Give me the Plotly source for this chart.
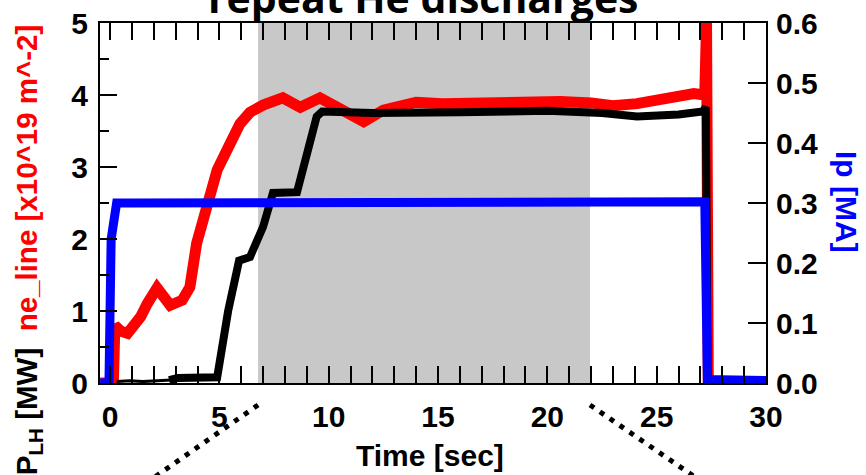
import plotly.graph_objects as go

# ---- data ----
ne_t = [-0.45, 0.15, 0.22, 0.5, 0.8, 1.1, 1.4, 1.7, 2.15, 2.45, 2.75, 3.3, 3.65, 3.96, 4.4, 4.9, 5.5, 5.94, 6.4,
        7.0, 7.9, 8.7, 9.6, 10.4, 11.0, 11.6, 12.5, 14.0, 15.2, 17.0, 19.0, 20.6, 22.0, 23.0, 24.1, 25.5, 26.7,
        27.2, 27.28, 27.36, 30.0]
ne_v = [0.0, 0.0, 0.8, 0.72, 0.69, 0.8, 0.92, 1.1, 1.32, 1.2, 1.08, 1.15, 1.33, 1.94, 2.45, 2.96, 3.33, 3.6, 3.76,
        3.86, 3.96, 3.83, 3.96, 3.84, 3.72, 3.63, 3.79, 3.9, 3.88, 3.9, 3.91, 3.91, 3.89, 3.85, 3.88, 3.95, 4.02,
        4.0, 5.0, 0.0, 0.0]

# P_LH: low-level noisy start, then main ramp
plh_early_t = [0.3, 0.9, 1.5, 2.1, 2.8]
plh_early_v = [0.02, 0.03, 0.02, 0.03, 0.04]
plh_t = [2.7, 3.1, 4.9, 5.4, 5.9, 6.4, 7.0, 7.45, 8.55, 8.8, 9.45, 9.7, 12.0, 16.0, 20.0, 22.5,
         24.1, 26.0, 27.1, 27.25, 27.33, 30.0]
plh_v = [0.04, 0.07, 0.08, 1.0, 1.7, 1.75, 2.17, 2.64, 2.65, 2.95, 3.7, 3.77, 3.75, 3.76, 3.78, 3.75,
         3.7, 3.73, 3.77, 3.83, 0.0, 0.0]

ip_t = [-0.45, -0.05, 0.05, 0.15, 0.3, 1.0, 5.0, 10.0, 15.0, 20.0, 25.0, 27.2, 27.32, 27.5, 30.0]
ip_v = [0.0, 0.0, 0.24, 0.26, 0.30, 0.30, 0.30, 0.30, 0.30, 0.30, 0.30, 0.302, 0.006, 0.006, 0.004]

shade_t = [6.77, 21.95]
x_ticks = [0, 5, 10, 15, 20, 25, 30]

FONT = "Liberation Sans"

fig = go.Figure()
fig.add_trace(go.Scatter(x=ne_t, y=ne_v, mode="lines", line=dict(color="#ff0000", width=11), yaxis="y"))
fig.add_trace(go.Scatter(x=plh_early_t, y=plh_early_v, mode="lines", line=dict(color="#000000", width=3), yaxis="y"))
fig.add_trace(go.Scatter(x=plh_t, y=plh_v, mode="lines", line=dict(color="#000000", width=8), yaxis="y"))
fig.add_trace(go.Scatter(x=ip_t, y=ip_v, mode="lines", line=dict(color="#0000ff", width=9), yaxis="y2"))

tickfont = dict(family=FONT, size=30, color="black", weight="bold")

fig.update_layout(
    width=866, height=475,
    margin=dict(l=100, r=100, t=23, b=92, autoexpand=False),
    paper_bgcolor="white", plot_bgcolor="white",
    showlegend=False,
    xaxis=dict(range=[-0.46, 30], tickvals=x_ticks, ticks="inside", ticklen=17, tickwidth=2, tickcolor="black",
               showline=True, linewidth=2, linecolor="black", mirror="allticks", showgrid=False, zeroline=False,
               minor=dict(dtick=1, ticks="inside", ticklen=9, tickwidth=2, tickcolor="black", showgrid=False),
               tickfont=tickfont, ticklabelstandoff=6, automargin=False),
    yaxis=dict(range=[0, 5], dtick=1, ticks="inside", ticklen=17, tickwidth=2, tickcolor="black",
               showline=True, linewidth=2, linecolor="black", showgrid=False, zeroline=False,
               minor=dict(dtick=0.5, ticks="inside", ticklen=9, tickwidth=2, tickcolor="black", showgrid=False),
               tickfont=tickfont, ticklabelstandoff=4, automargin=False),
    yaxis2=dict(range=[0, 0.6], dtick=0.1, tickformat=".1f", overlaying="y", side="right",
                ticks="inside", ticklen=18, tickwidth=2, tickcolor="black",
                showline=True, linewidth=2, linecolor="black", showgrid=False, zeroline=False,
                tickfont=tickfont, ticklabelstandoff=2, automargin=False),
    shapes=[
        dict(type="rect", xref="x", yref="paper", x0=shade_t[0], x1=shade_t[1], y0=0, y1=1,
             fillcolor="rgb(200,200,200)", line=dict(width=0), layer="below"),
        dict(type="line", xref="x", yref="paper", x0=shade_t[0], y0=-0.061, x1=1.6, y1=-0.28,
             line=dict(color="black", width=5, dash="5px,7px")),
        dict(type="line", xref="x", yref="paper", x0=shade_t[1], y0=-0.061, x1=27.2, y1=-0.28,
             line=dict(color="black", width=5, dash="5px,7px")),
    ],
    annotations=[
        dict(text="<b>repeat He discharges</b>", xref="paper", yref="paper", x=0.485, y=0.988,
             xanchor="center", yanchor="bottom", showarrow=False,
             font=dict(family="Open Sans", size=41, color="black")),
        dict(text="<b>Time [sec]</b>", xref="paper", yref="paper", x=0.495, y=-0.2,
             xanchor="center", yanchor="middle", showarrow=False,
             font=dict(family=FONT, size=30, color="black")),
        dict(text='<b>P<sub>LH</sub> [MW]</b>  <span style="color:#ff0000"><b>ne_line [x10^19 m^-2]</b></span>',
             xref="paper", yref="paper", x=-0.108, y=0.369, textangle=-90,
             xanchor="center", yanchor="middle", showarrow=False,
             font=dict(family=FONT, size=29.5, color="black")),
        dict(text="<b>Ip [MA]</b>", xref="paper", yref="paper", x=1.12, y=0.503, textangle=90,
             xanchor="center", yanchor="middle", showarrow=False,
             font=dict(family=FONT, size=30, color="#0000ff")),
    ],
)

fig.write_html("out.html")
